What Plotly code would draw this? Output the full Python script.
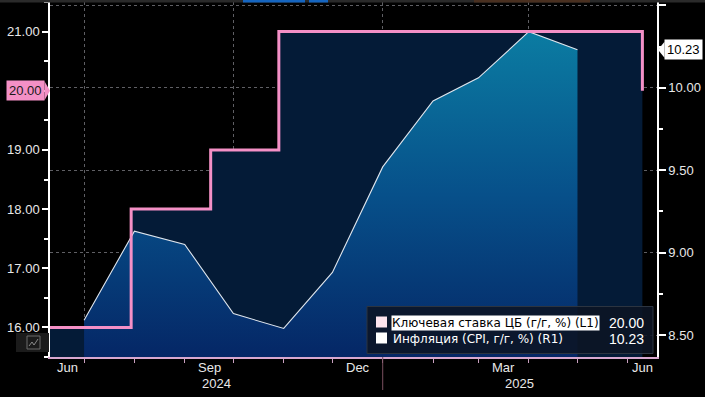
import plotly.graph_objects as go
import pandas as pd

# ---------------- data ----------------
rate_dates = ["2024-06-03", "2024-07-29", "2024-09-16", "2024-10-28", "2025-06-09"]
rate_values = [16.0, 18.0, 19.0, 21.0, 20.0]

cpi_dates = ["2024-06-30", "2024-07-31", "2024-08-31", "2024-09-30", "2024-10-31",
             "2024-11-30", "2024-12-31", "2025-01-31", "2025-02-28", "2025-03-31",
             "2025-04-30"]
cpi_values = [8.59, 9.13, 9.05, 8.63, 8.54, 8.88, 9.52, 9.92, 10.06, 10.34, 10.23]

rate_name = "Ключевая ставка ЦБ (г/г, %) (L1)"
cpi_name = "Инфляция (CPI, г/г, %) (R1)"

left_ticks = [16, 17, 18, 19, 20, 21]
left_ticktext = ["16.00", "17.00", "18.00", "19.00", "", "21.00"]
left_minor = [15.5, 16.5, 17.5, 18.5, 19.5, 20.5, 21.5]
right_ticks = [8.5, 9.0, 9.5, 10.0, 10.5]
right_ticktext = ["8.50", "9.00", "9.50", "10.00", ""]
right_minor = [8.75, 9.25, 9.75, 10.25]

month_ends = ["2024-06-30", "2024-07-31", "2024-08-31", "2024-09-30", "2024-10-31",
              "2024-11-30", "2024-12-31", "2025-01-31", "2025-02-28", "2025-03-31",
              "2025-04-30", "2025-05-31"]
quarter_ends = ["2024-06-30", "2024-09-30", "2024-12-31", "2025-03-31"]
month_labels = ["Jun", "Sep", "Dec", "Mar", "Jun"]
month_label_spans = [("2024-06-09", "2024-06-30"), ("2024-08-31", "2024-09-30"),
                     ("2024-11-30", "2024-12-31"), ("2025-02-28", "2025-03-31"),
                     ("2025-05-31", "2025-06-18")]
year_labels = ["2024", "2025"]
year_spans = [("2024-06-09", "2024-12-31"), ("2024-12-31", "2025-06-18")]

x_range = ["2024-06-09", "2025-06-18"]
y_left_range = [15.5, 21.5]
y_right_range = [8.367, 10.52]

# ---------------- geometry helpers ----------------
W, H = 705, 397
L, R, T, B = 50, 48, 2, 40
PW, PH = W - L - R, H - T - B

def px(x):
    return (x - L) / PW

def py(y):
    return (H - B - y) / PH

def mid(a, b):
    ta, tb = pd.Timestamp(a), pd.Timestamp(b)
    return ta + (tb - ta) / 2

FONT = "Liberation Sans, Arial, sans-serif"
LFONT = "DejaVu Sans, Verdana, sans-serif"
TXT = "#e8e8e8"
PINK = "#f490c6"
GRID = "rgba(190,190,200,0.5)"

fig = go.Figure()

# key-rate area (behind)
fig.add_trace(go.Scatter(
    x=rate_dates, y=rate_values, yaxis="y", mode="lines",
    line=dict(shape="hv", width=0, color="rgba(0,0,0,0)"),
    fill="tozeroy", fillcolor="#041b37", hoverinfo="skip", showlegend=False))

# inflation area with gradient
fig.add_trace(go.Scatter(
    x=cpi_dates, y=cpi_values, yaxis="y2", mode="lines",
    line=dict(width=1.1, color="#dfe6ee"),
    fill="tozeroy",
    fillgradient=dict(type="vertical",
                      colorscale=[[0, "#052766"], [0.5, "#07508a"], [1, "#0b7ca2"]],
                      start=y_right_range[0], stop=max(cpi_values)),
    name=cpi_name, showlegend=False))

# key-rate line (on top)
fig.add_trace(go.Scatter(
    x=rate_dates, y=rate_values, yaxis="y3", mode="lines",
    line=dict(shape="hv", width=3, color=PINK),
    name=rate_name, showlegend=False))

shapes = []
annotations = []

# top UI strip
shapes.append(dict(type="rect", xref="paper", yref="paper", x0=px(0), x1=px(W), y0=py(2.5), y1=py(0),
                   fillcolor="#2a2a2a", line=dict(width=0), layer="above"))
for x0, x1, c in [(243, 305, "#1565c0"), (309, 328, "#1565c0"), (474, 590, "#4a3020")]:
    shapes.append(dict(type="rect", xref="paper", yref="paper", x0=px(x0), x1=px(x1), y0=py(2.5), y1=py(0),
                       fillcolor=c, line=dict(width=0), layer="above"))

# year separator tick
shapes.append(dict(type="line", xref="x", yref="paper", x0="2024-12-31", x1="2024-12-31",
                   y0=py(357), y1=py(390), line=dict(color="#7a5060", width=1)))

# small chart-type widget at bottom-left
shapes.append(dict(type="rect", xref="paper", yref="paper", x0=px(16), x1=px(49), y0=py(352), y1=py(333),
                   fillcolor="#1b1b1b", line=dict(width=0), layer="above"))
shapes.append(dict(type="rect", xref="paper", yref="paper", x0=px(27), x1=px(40), y0=py(349), y1=py(336),
                   fillcolor="rgba(0,0,0,0)", line=dict(width=1, color="#6a6a6a"), layer="above"))
shapes.append(dict(type="path", xref="paper", yref="paper",
                   path=f"M {px(29)},{py(346)} L {px(32)},{py(342)} L {px(34)},{py(345)} L {px(38)},{py(339)}",
                   line=dict(width=1, color="#8a8a8a"), layer="above"))

# legend box
shapes.append(dict(type="rect", xref="paper", yref="paper", x0=px(367), x1=px(653), y0=py(353.5), y1=py(306.5),
                   fillcolor="rgba(12,20,36,0.88)", line=dict(width=1, color="#2c3440"), layer="above"))
shapes.append(dict(type="rect", xref="paper", yref="paper", x0=px(376), x1=px(387), y0=py(327.5), y1=py(316.5),
                   fillcolor="#fde4ee", line=dict(width=0), layer="above"))
shapes.append(dict(type="rect", xref="paper", yref="paper", x0=px(376), x1=px(387), y0=py(343.5), y1=py(332.5),
                   fillcolor="#ffffff", line=dict(width=0), layer="above"))

annotations.append(dict(text=rate_name, xref="paper", yref="paper", x=px(391), y=py(322.5),
                        xanchor="left", yanchor="middle", showarrow=False, bgcolor="#ffffff",
                        borderpad=0, font=dict(family=LFONT, size=12, color="#000000")))
annotations.append(dict(text=cpi_name, xref="paper", yref="paper", x=px(391), y=py(339),
                        xanchor="left", yanchor="middle", showarrow=False,
                        font=dict(family=LFONT, size=12, color="#ffffff")))
annotations.append(dict(text=f"{rate_values[-1]:.2f}", xref="paper", yref="paper", x=px(646), y=py(322.5),
                        xanchor="right", yanchor="middle", showarrow=False,
                        font=dict(family=FONT, size=14, color="#ffffff")))
annotations.append(dict(text=f"{cpi_values[-1]:.2f}", xref="paper", yref="paper", x=px(646), y=py(339),
                        xanchor="right", yanchor="middle", showarrow=False,
                        font=dict(family=FONT, size=14, color="#ffffff")))

# value tags
annotations.append(dict(text=f"{rate_values[-1]:.2f}", xref="paper", yref="y", x=px(45), y=rate_values[-1],
                        xanchor="right", yanchor="middle", showarrow=False, bgcolor=PINK, borderpad=2,
                        font=dict(family=FONT, size=13, color="#1a1a1a")))
dy_l = 9.5 / (PH / (y_left_range[1] - y_left_range[0]))
shapes.append(dict(type="path", xref="paper", yref="y",
                   path=f"M {px(44.5)},{rate_values[-1] + dy_l} L {px(50)},{rate_values[-1]} L {px(44.5)},{rate_values[-1] - dy_l} Z",
                   fillcolor=PINK, line=dict(width=0), layer="above"))
annotations.append(dict(text=f"{cpi_values[-1]:.2f}", xref="paper", yref="y2", x=px(664), y=cpi_values[-1],
                        xanchor="left", yanchor="middle", showarrow=False, bgcolor="#ffffff", borderpad=2,
                        font=dict(family=FONT, size=13, color="#000000")))
dy_r = 8 / (PH / (y_right_range[1] - y_right_range[0]))
shapes.append(dict(type="path", xref="paper", yref="y2",
                   path=f"M {px(664.5)},{cpi_values[-1] + dy_r} L {px(658)},{cpi_values[-1]} L {px(664.5)},{cpi_values[-1] - dy_r} Z",
                   fillcolor="#ffffff", line=dict(width=0), layer="above"))

# month and year labels
for lab, (a, b) in zip(month_labels, month_label_spans):
    annotations.append(dict(text=lab, xref="x", yref="paper", x=mid(a, b), y=py(367.5),
                            xanchor="center", yanchor="middle", showarrow=False,
                            font=dict(family=FONT, size=13, color=TXT)))
for lab, (a, b) in zip(year_labels, year_spans):
    annotations.append(dict(text=lab, xref="x", yref="paper", x=mid(a, b), y=py(383.5),
                            xanchor="center", yanchor="middle", showarrow=False,
                            font=dict(family=FONT, size=13, color=TXT)))

fig.update_layout(
    width=W, height=H,
    margin=dict(l=L, r=R, t=T, b=B),
    paper_bgcolor="#000000", plot_bgcolor="#000000",
    font=dict(family=FONT, size=13, color=TXT),
    showlegend=False,
    xaxis=dict(type="date", range=x_range, showgrid=True, gridcolor=GRID, griddash="3px,3px", gridwidth=1,
               tickmode="array", tickvals=quarter_ends, ticktext=[""] * len(quarter_ends),
               ticks="outside", ticklen=4, tickcolor="#c9a0c0", tickwidth=1,
               minor=dict(tickmode="array", tickvals=month_ends, ticks="outside", ticklen=4,
                          tickcolor="#c9a0c0", showgrid=False),
               showline=True, linecolor="#d8a8d0", linewidth=1.5, zeroline=False, fixedrange=True),
    yaxis=dict(range=y_left_range, side="left", showgrid=False, zeroline=False,
               tickmode="array", tickvals=left_ticks, ticktext=left_ticktext,
               ticks="outside", ticklen=6, tickwidth=2, tickcolor="#ffffff",
               minor=dict(tickmode="array", tickvals=left_minor, ticks="outside", ticklen=4,
                          tickcolor="#ffffff", showgrid=False),
               showline=True, linecolor="#ffffff", linewidth=1.5,
               tickfont=dict(family=FONT, size=13, color=TXT)),
    yaxis2=dict(range=y_right_range, side="right", overlaying="y", anchor="x",
                showgrid=True, gridcolor=GRID, griddash="3px,3px", gridwidth=1, zeroline=False,
                tickmode="array", tickvals=right_ticks, ticktext=right_ticktext,
                ticks="outside", ticklen=7, tickwidth=2, tickcolor="#ffffff",
                minor=dict(tickmode="array", tickvals=right_minor, ticks="outside", ticklen=4,
                           tickcolor="#ffffff", showgrid=False),
                showline=True, linecolor="#ffffff", linewidth=1.5,
                tickfont=dict(family=FONT, size=13, color=TXT)),
    yaxis3=dict(range=y_left_range, overlaying="y", anchor="x", side="left",
                visible=False, showgrid=False, zeroline=False),
    shapes=shapes,
    annotations=annotations,
)

fig.write_html("out.html",
               config={"displayModeBar": False},
               post_script="document.body.style.margin='0';document.body.style.padding='0';"
                           "document.body.style.overflow='hidden';document.body.style.background='#000';")
